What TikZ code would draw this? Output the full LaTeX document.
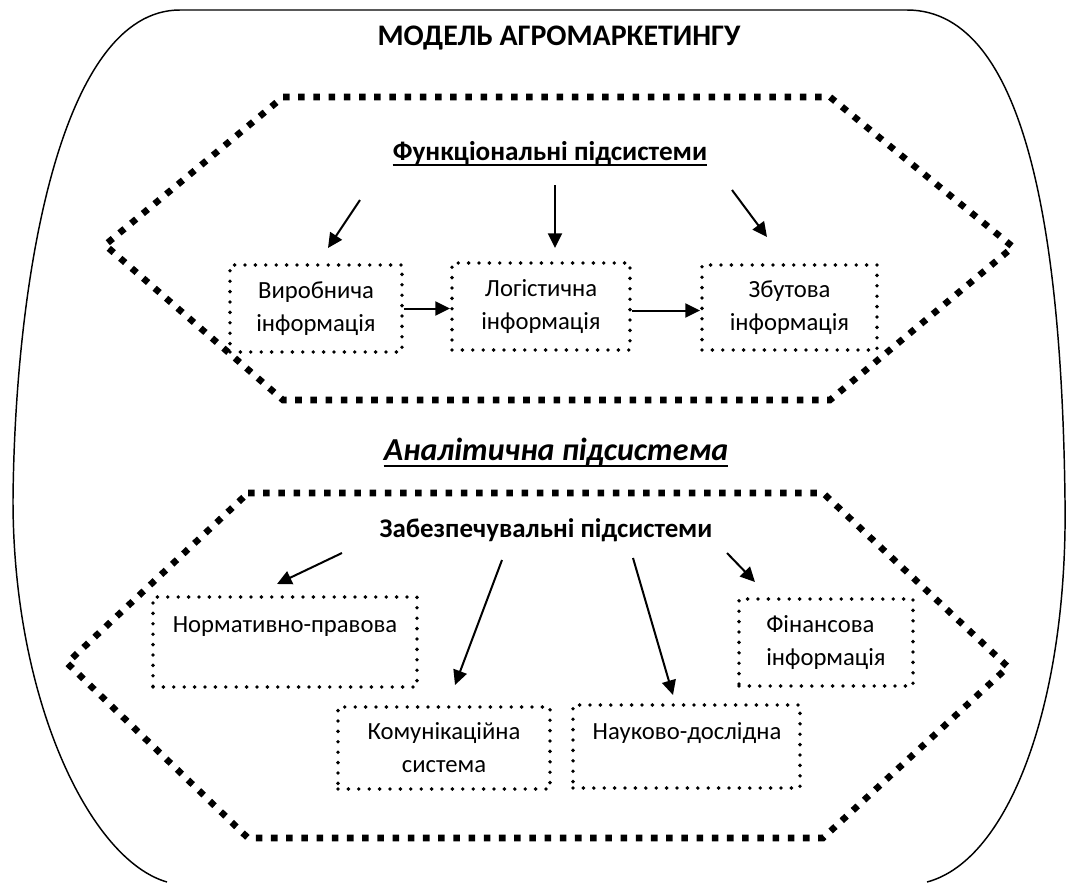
\documentclass[tikz,border=0pt]{standalone}
\usepackage{fontspec}
\setmainfont{Carlito}
\usetikzlibrary{arrows.meta}
\begin{document}
\begin{tikzpicture}[x=0.75pt,y=-0.75pt,
  outer/.style={line width=1.1pt},
  hexline/.style={line width=4.9pt, dash pattern=on 4.9pt off 6.5pt},
  dotbox/.style={draw, line width=2.9pt, line cap=round, dash pattern=on 0pt off 7.8pt, inner sep=0pt, align=center, font=\fontsize{18.5}{24.75}\selectfont},
  boxtext/.style={inner sep=0pt, font=\fontsize{18.5}{24.75}\selectfont},
  arr/.style={-{Triangle[length=11pt,width=10.5pt]}, line width=1.5pt},
  heading/.style={inner sep=0pt, font=\bfseries\fontsize{20.4}{24}\selectfont}]
\useasboundingbox (0,0) rectangle (1078,882);
% outer shape
\draw[outer] (167,882) .. controls (90,860) and (13,700) .. (13,500)
  .. controls (15,280) and (60,10) .. (180,10) -- (907,10)
  .. controls (1030,10) and (1062,250) .. (1065,500)
  .. controls (1068,700) and (1010,860) .. (927,882);
% hexagons
\draw[hexline] (283,97) -- (830,97) -- (1013,247) -- (830,400) -- (283,400) -- (105,245) -- cycle;
\draw[hexline] (248,493) -- (823,493) -- (1008,667) -- (823,838) -- (248,838) -- (67,663) -- cycle;
% titles
\node[heading, font=\bfseries\fontsize{22.4}{26}\selectfont] (title) at (559,38) {МОДЕЛЬ АГРОМАРКЕТИНГУ};
\node[heading] (func) at (550,153) {Функціональні підсистеми};
\draw[line width=1.4pt] ([yshift=-3.5pt]func.base west) -- ([yshift=-3.5pt]func.base east);
\node[heading, font=\bfseries\itshape\fontsize{24}{28}\selectfont] (anal) at (556,452) {Аналітична підсистема};
\draw[line width=2pt] ([yshift=-4pt]anal.base west) -- ([yshift=-4pt]anal.base east);
\node[heading, font=\bfseries\fontsize{20.2}{24}\selectfont] (zab) at (546,530) {Забезпечувальні підсистеми};
% upper boxes
\node[dotbox, minimum width=172*0.75pt, minimum height=87*0.75pt] (vyr) at (316,308.5) {Виробнича\\інформація};
\node[dotbox, minimum width=178*0.75pt, minimum height=87*0.75pt] (log) at (541,306.5) {Логістична\\інформація};
\node[dotbox, minimum width=175*0.75pt, minimum height=85*0.75pt] (zbut) at (789.5,307.5) {Збутова\\інформація};
% lower boxes
\node[dotbox, minimum width=264*0.75pt, minimum height=90*0.75pt] (norm) at (285,642) {};
\node[boxtext] (normt) at (285,627) {Нормативно-правова};
\node[dotbox, minimum width=212*0.75pt, minimum height=82*0.75pt] (kom) at (444,748) {Комунікаційна\\система};
\node[dotbox, minimum width=227*0.75pt, minimum height=83*0.75pt] (nauk) at (686.5,746.5) {};
\node[boxtext] (naukt) at (687,733) {Науково-дослідна};
\node[dotbox, minimum width=174*0.75pt, minimum height=87*0.75pt, align=left] (fin) at (826,642.5) {Фінансова\\інформація};
% arrow coordinates
\coordinate (a1s) at (360,200); \coordinate (a1e) at (328,248);
\coordinate (a2s) at (555,185); \coordinate (a2e) at (555,248);
\coordinate (a3s) at (732,190); \coordinate (a3e) at (767,237);
\coordinate (b1s) at (342,553); \coordinate (b1e) at (277,584);
\coordinate (b2s) at (502,560); \coordinate (b2e) at (455,685);
\coordinate (b3s) at (633,558); \coordinate (b3e) at (673,695);
\coordinate (b4s) at (727,553); \coordinate (b4e) at (755,582);
\draw[arr] (a1s) -- (a1e);
\draw[arr] (a2s) -- (a2e);
\draw[arr] (a3s) -- (a3e);
\draw[arr] (b1s) -- (b1e);
\draw[arr] (b2s) -- (b2e);
\draw[arr] (b3s) -- (b3e);
\draw[arr] (b4s) -- (b4e);
\draw[arr] (vyr.east) -- (vyr.east -| log.west);
\draw[arr] ([yshift=-3pt]log.east) -- ([yshift=-3pt]log.east -| zbut.west);
\end{tikzpicture}
\end{document}
